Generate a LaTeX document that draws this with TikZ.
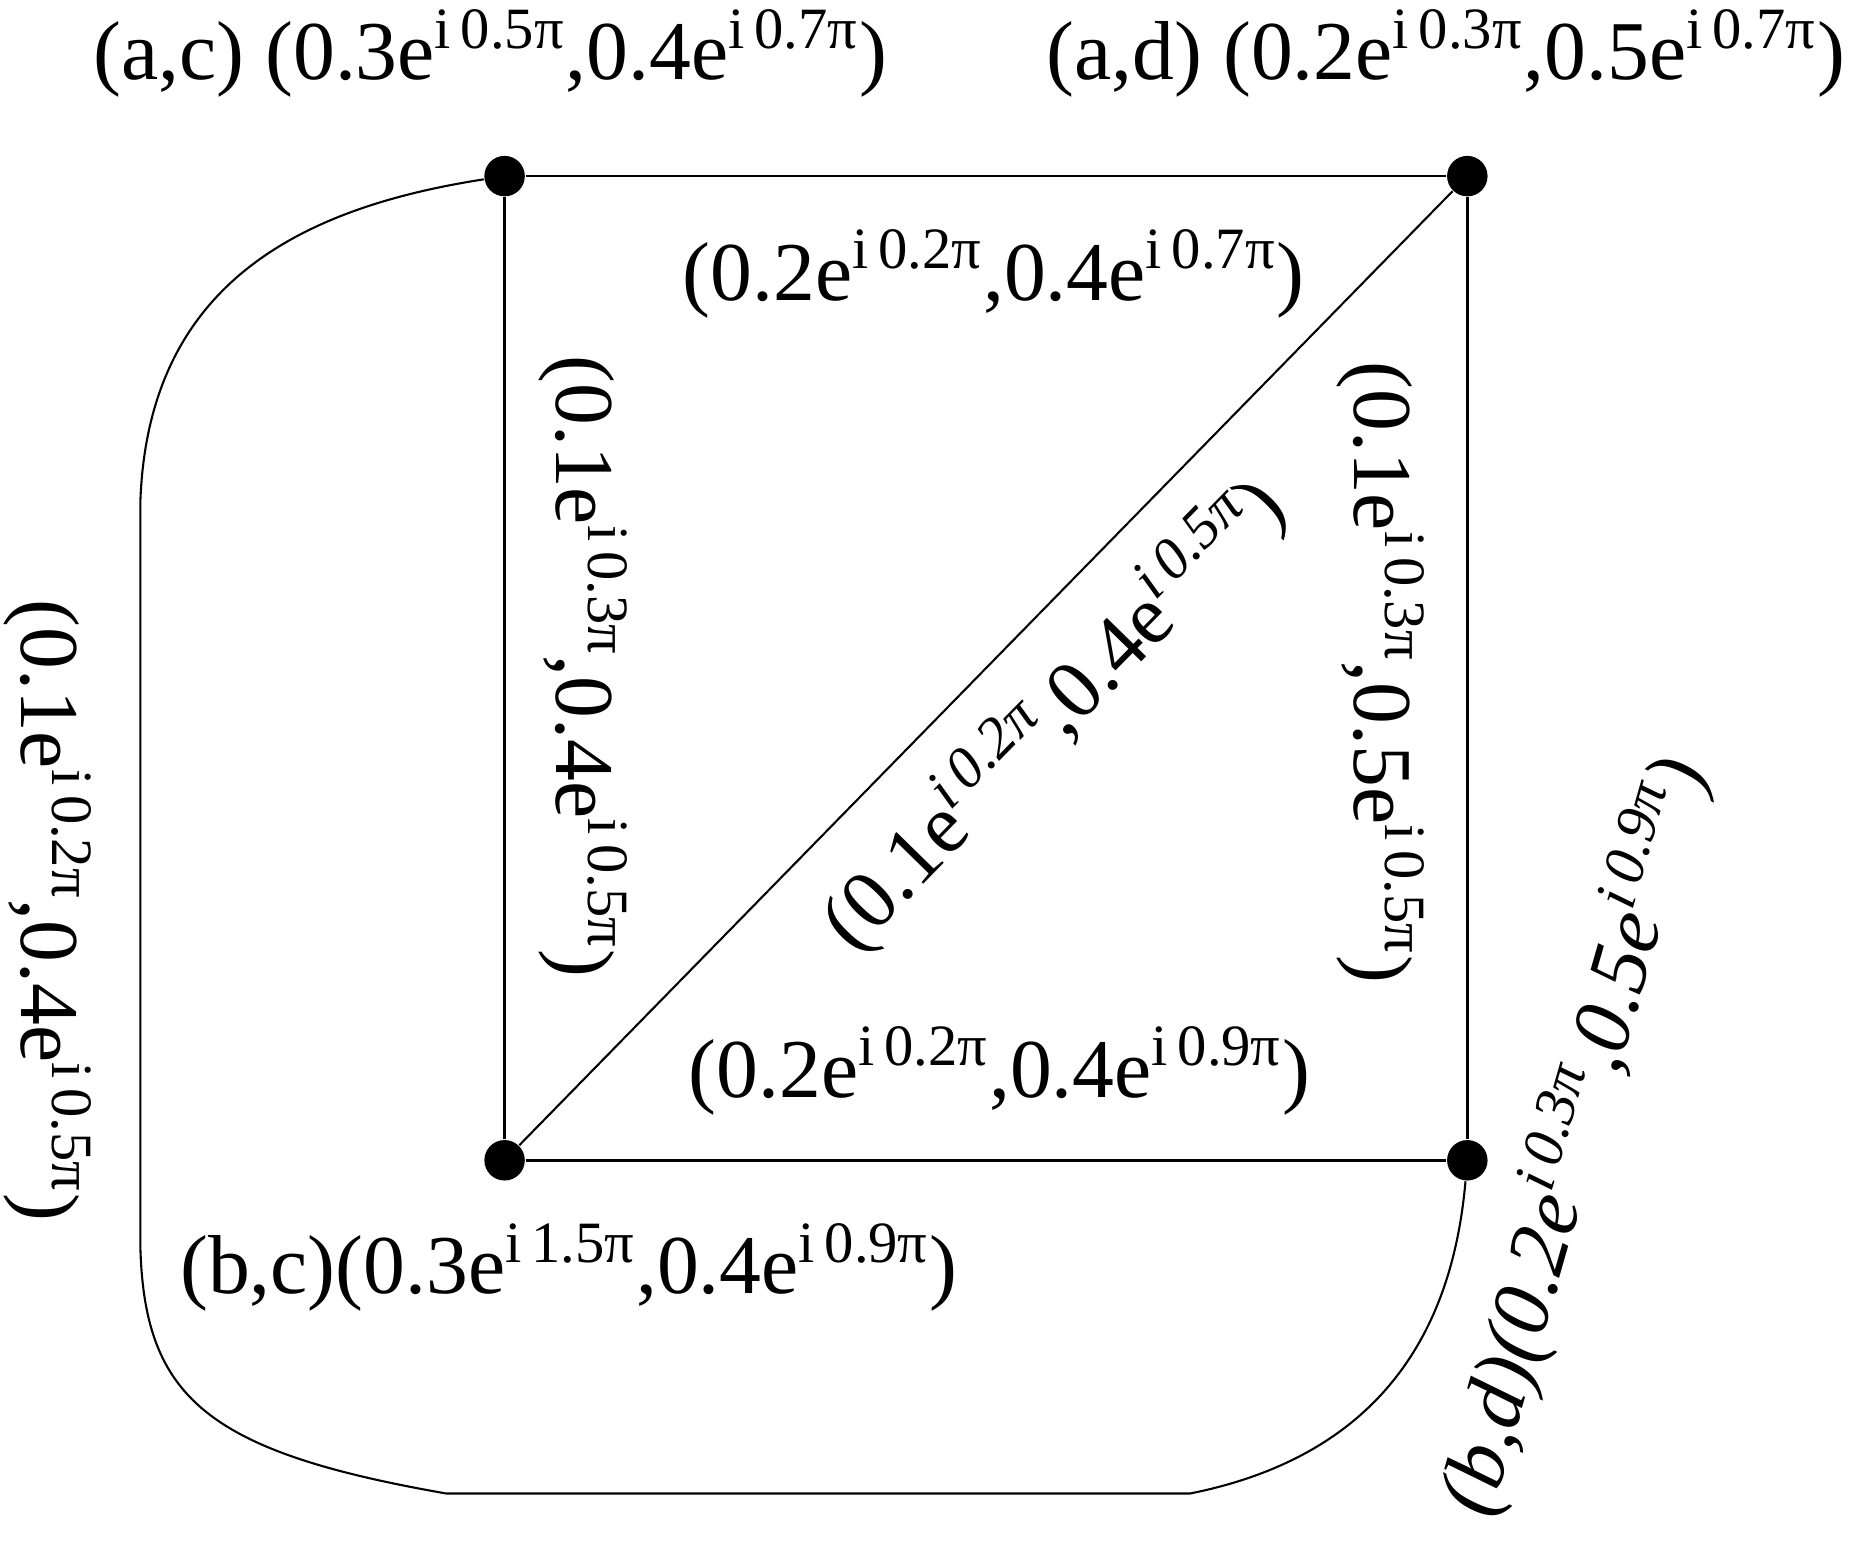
\documentclass[tikz,border=0pt]{standalone}
\usepackage{fontspec}
\setmainfont{Liberation Serif}
\usepackage{xcolor}
\usepackage{tikz}

\newcommand{\pw}[1]{e\textsuperscript{i\,#1π}}
\newcommand{\pwi}[1]{e\textsuperscript{\itshape i\,#1π}}

\begin{document}
\begin{tikzpicture}[x=0.1mm,y=0.1mm,
    font=\fontsize{20}{24}\selectfont,
    vertex/.style={circle,fill=black,inner sep=0pt,minimum size=3.4mm},
    edgelabel/.style={inner sep=1pt}]
  \useasboundingbox (0,0) rectangle (1568,1300);

  % vertices
  \node[vertex] (ac) at (424,1152) {};
  \node[vertex] (ad) at (1233,1152) {};
  \node[vertex] (bc) at (424,325) {};
  \node[vertex] (bd) at (1233,325) {};

  % square and diagonal
  \draw[line width=0.6pt] (ac) -- (ad);
  \draw[line width=0.6pt] (ac) -- (bc);
  \draw[line width=0.6pt] (ad) -- (bd);
  \draw[line width=0.6pt] (bc) -- (bd);
  \draw[line width=0.5pt] (bc) -- (ad);

  % outer edge
  \draw[line width=0.5pt] (ac) .. controls (250,1125) and (125,1060) .. (118,880)
    -- (118,250) .. controls (122,125) and (175,80) .. (375,45)
    -- (1000,45) .. controls (1175,80) and (1222,200) .. (bd);

  % vertex labels
  \node (lac) at (412,1255) {(a,c) (0.3\pw{0.5},0.4\pw{0.7})};
  \node (lad) at (1215,1255) {(a,d) (0.2\pw{0.3},0.5\pw{0.7})};
  \node (lbc) at (478,235) {(b,c)(0.3\pw{1.5},0.4\pw{0.9})};
  \node[rotate=74] (lbd) at (1322,345) {\itshape (b,d)(0.2\pw{0.3},0.5\pw{0.9})};

  % edge labels
  \node[edgelabel] (eacad) at (835,1070) {(0.2\pw{0.2},0.4\pw{0.7})};
  \node[edgelabel] (ebcbd) at (840,400) {(0.2\pw{0.2},0.4\pw{0.9})};
  \node[edgelabel,rotate=-90] (eacbc) at (490,740) {(0.1\pw{0.3},0.4\pw{0.5})};
  \node[edgelabel,rotate=-90] (eadbd) at (1160,735) {(0.1\pw{0.3},0.5\pw{0.5})};
  \node[edgelabel,rotate=45.6] (ebcad) at (885,700) {(0.1\pwi{0.2},0.4\pwi{0.5})};
  \node[edgelabel,rotate=-90] (eacbd) at (40,535) {(0.1\pw{0.2},0.4\pw{0.5})};
\end{tikzpicture}
\end{document}
